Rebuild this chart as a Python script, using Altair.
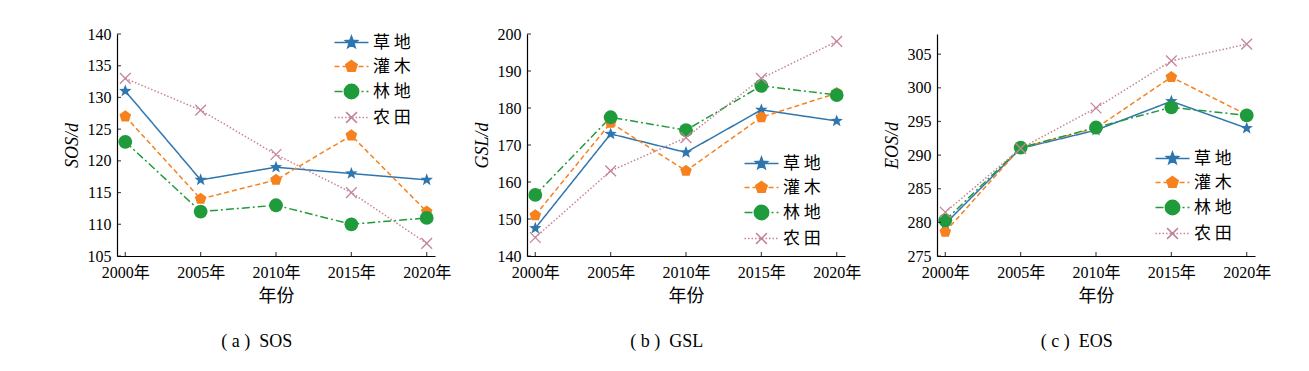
import math
import altair as alt
import pandas as pd

YEARS = ["2000年", "2005年", "2010年", "2015年", "2020年"]
SERIES = ["草地", "灌木", "林地", "农田"]

SOS_GRASS = [131, 117, 119, 118, 117]
SOS_SHRUB = [127, 114, 117, 124, 112]
SOS_FOREST = [123, 112, 113, 110, 111]
SOS_CROP = [133, 128, 121, 115, 107]

GSL_GRASS = [147.5, 173, 168, 179.5, 176.5]
GSL_SHRUB = [151, 176, 163, 177.5, 184]
GSL_FOREST = [156.5, 177.5, 174, 186, 183.5]
GSL_CROP = [145, 163, 172, 188, 198]

EOS_GRASS = [279.8, 291, 293.7, 298, 294]
EOS_SHRUB = [278.6, 291.1, 294, 301.6, 296]
EOS_FOREST = [280.3, 291.1, 294.1, 297.1, 295.9]
EOS_CROP = [281.5, 291, 297, 304, 306.5]

SOS_TICKS = [105, 110, 115, 120, 125, 130, 135, 140]
GSL_TICKS = [140, 150, 160, 170, 180, 190, 200]
EOS_TICKS = [275, 280, 285, 290, 295, 300, 305]

COLORS = ["#2f76ae", "#f5821f", "#1f9b3c", "#c58597"]
FILLS = ["#2f76ae", "#f5821f", "#1f9b3c", "transparent"]
DASHES = [[1, 0], [5, 3], [8, 3, 2, 3], [1.5, 2]]

W, H = 318, 222
NUM_FONT = "Liberation Serif, Noto Sans CJK SC"
CJK_FONT = "Noto Sans CJK SC"


def star_path(R=1.0, ratio=0.42):
    pts = []
    for k in range(10):
        a = math.radians(-90 + 36 * k)
        r = R if k % 2 == 0 else R * ratio
        pts.append(f"{r*math.cos(a):.3f},{r*math.sin(a):.3f}")
    return "M" + "L".join(pts) + "Z"


def pent_path(R=1.0):
    pts = []
    for k in range(5):
        a = math.radians(-90 + 72 * k)
        pts.append(f"{R*math.cos(a):.3f},{R*math.sin(a):.3f}")
    return "M" + "L".join(pts) + "Z"


def circle_path(R=1.0):
    return f"M{R},0A{R},{R},0,1,1,{-R},0A{R},{R},0,1,1,{R},0Z"


def x_path(R=1.0):
    return f"M{-R},{-R}L{R},{R}M{-R},{R}L{R},{-R}"


def dash_path(pattern_px, unit=6.0, half=2.83):
    pattern = [p / unit for p in pattern_px]
    segs, x, i = [], -half, 0
    while x < half - 1e-6:
        L = pattern[i % len(pattern)]
        x2 = min(x + L, half)
        if i % 2 == 0:
            segs.append(f"M{x:.3f},0H{x2:.3f}")
        x = x2
        i += 1
    return "".join(segs)


LEG_PATHS = [
    dash_path([40]) + star_path(1.05),
    dash_path([5, 3]) + pent_path(1.0),
    dash_path([8, 3, 2, 3]) + circle_path(1.2),
    dash_path([1.5, 2]) + x_path(0.9),
]

MARKS = [
    dict(shape=star_path(1.0), filled=True, size=170),
    dict(shape=pent_path(1.0), filled=True, size=150),
    dict(shape="circle", filled=True, size=190),
    dict(shape=x_path(1.0), filled=False, size=115, strokeWidth=1.3),
]


def panel(values, ydomain, yticks, ytitle, caption, lx, ly):
    rows = []
    for s, vals in zip(SERIES, values):
        for yr, v in zip(YEARS, vals):
            rows.append({"year": yr, "value": v, "series": s})
    df = pd.DataFrame(rows)

    x = alt.X("year:N", sort=YEARS,
              scale=alt.Scale(domain=YEARS, type="point", padding=0.11),
              axis=alt.Axis(title="年份", labelAngle=0, labelPadding=8,
                            titlePadding=7, titleFont=CJK_FONT, titleFontSize=18))
    y = alt.Y("value:Q", scale=alt.Scale(domain=ydomain, nice=False, zero=False),
              axis=alt.Axis(values=yticks, title=ytitle, titleFont="Liberation Serif",
                            titleFontStyle="italic", titleFontSize=18, titlePadding=6,
                            labelPadding=6))

    layers = []
    for s, c, d in zip(SERIES, COLORS, DASHES):
        layers.append(
            alt.Chart(df).transform_filter(alt.datum.series == s)
            .mark_line(color=c, strokeDash=d, strokeWidth=1.5).encode(x=x, y=y)
        )
    for s, c, m in zip(SERIES, COLORS, MARKS):
        layers.append(
            alt.Chart(df).transform_filter(alt.datum.series == s)
            .mark_point(color=c, opacity=1, **m).encode(x=x, y=y)
        )

    leg = alt.Legend(orient="none", legendX=lx, legendY=ly, title=None,
                     symbolSize=144, symbolStrokeWidth=1.5, symbolOpacity=1,
                     symbolOffset=9, labelOffset=13, rowPadding=6, padding=0,
                     labelExpr="substring(datum.label, 0, 1) + ' ' + substring(datum.label, 1)",
                     labelFont=CJK_FONT, labelFontSize=17, labelColor="black")
    legend_layer = alt.Chart(df).mark_point(opacity=0).encode(
        x=x, y=y,
        shape=alt.Shape("series:N", scale=alt.Scale(domain=SERIES, range=LEG_PATHS), legend=leg),
        fill=alt.Fill("series:N", scale=alt.Scale(domain=SERIES, range=FILLS), legend=leg),
        stroke=alt.Stroke("series:N", scale=alt.Scale(domain=SERIES, range=COLORS), legend=leg),
    )
    layers.append(legend_layer)

    ytick_df = pd.DataFrame({"value": yticks})
    xtick_df = pd.DataFrame({"year": YEARS})
    yt = alt.Chart(ytick_df).mark_tick(orient="horizontal", size=4, thickness=1.2, color="black").encode(
        y=y, x=alt.value(2))
    xt = alt.Chart(xtick_df).mark_tick(orient="vertical", size=4, thickness=1.2, color="black").encode(
        x=x, y=alt.value(H - 2))
    layers += [yt, xt]

    return alt.layer(*layers).properties(
        width=W, height=H,
        title=alt.TitleParams(text=caption, orient="bottom", anchor="middle", frame="bounds",
                              font="Liberation Serif", fontSize=18, fontWeight="normal", offset=28,
                              color="black"),
    )


pa = panel([SOS_GRASS, SOS_SHRUB, SOS_FOREST, SOS_CROP], [105, 140], SOS_TICKS,
           "SOS/d", "( a )\u00a0\u00a0SOS", 217, 0)
pb = panel([GSL_GRASS, GSL_SHRUB, GSL_FOREST, GSL_CROP], [140, 200], GSL_TICKS,
           "GSL/d", "( b )\u00a0\u00a0GSL", 217, 121)
pc = panel([EOS_GRASS, EOS_SHRUB, EOS_FOREST, EOS_CROP], [275, 308], EOS_TICKS,
           "EOS/d", "( c )\u00a0\u00a0EOS", 218, 116)

chart = alt.hconcat(pa, pb, pc, spacing=22).resolve_scale(
    shape="independent", fill="independent", stroke="independent",
    y="independent", x="independent",
).resolve_legend(
    shape="independent", fill="independent", stroke="independent",
).properties(
    padding={"left": 55, "top": 18, "right": 5, "bottom": 5},
    background="white",
).configure_view(stroke=None).configure_axis(
    domainColor="black", domainWidth=1.2, tickSize=0, grid=False,
    labelFont=NUM_FONT, labelFontSize=16, labelColor="black",
    titleColor="black", titleFontWeight="normal",
)

chart.save("out.html", embed_options={"renderer": "svg", "actions": False})
